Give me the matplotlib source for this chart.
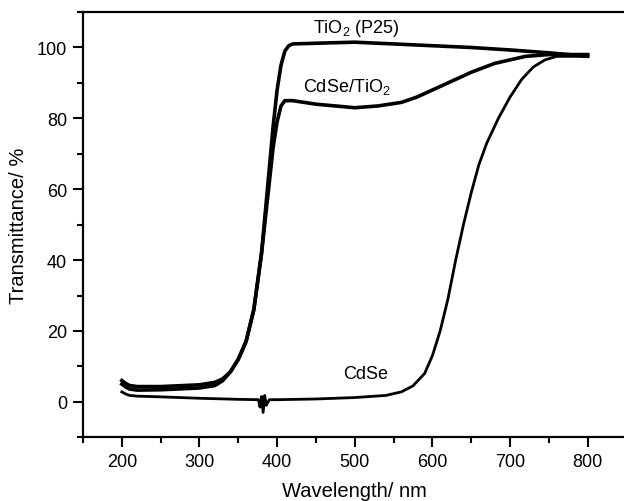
import numpy as np
import matplotlib
matplotlib.use("Agg")
import matplotlib.pyplot as plt
from matplotlib.ticker import MultipleLocator

plt.rcParams['font.family'] = ['Liberation Sans', 'DejaVu Sans']
plt.rcParams['mathtext.fontset'] = 'custom'
plt.rcParams['mathtext.rm'] = 'Liberation Sans'
plt.rcParams['mathtext.default'] = 'regular'

# values (wavelength nm, transmittance %)
tio2_x = [200, 205, 210, 220, 250, 300, 320, 330, 340, 350, 360, 370, 380, 390, 395, 400, 405, 410, 415, 420,
          450, 500, 550, 600, 650, 700, 750, 800]
tio2_y = [6.0, 5.2, 4.6, 4.3, 4.3, 4.8, 5.5, 6.5, 8.5, 12, 17, 26, 42, 66, 78, 88, 95, 99, 100.5, 101,
          101.2, 101.5, 101, 100.5, 100, 99.3, 98.5, 97.5]

cdse_tio2_x = [200, 205, 210, 220, 250, 300, 320, 330, 340, 350, 360, 370, 380, 390, 395, 400, 405, 410, 420,
               450, 500, 530, 560, 580, 600, 620, 650, 680, 700, 720, 750, 800]
cdse_tio2_y = [5.0, 4.2, 3.6, 3.3, 3.4, 3.9, 4.6, 6.0, 8.5, 12, 17, 26, 42, 62, 72, 79, 83.5, 85, 85,
               84, 83, 83.5, 84.5, 86, 88, 90, 93, 95.5, 96.5, 97.5, 98, 98]

cdse_x = [200, 205, 210, 220, 250, 300, 350, 376, 378, 380, 382, 384, 386, 390, 400, 450, 500, 540, 560,
          575, 590, 600, 610, 620, 630, 640, 650, 660, 670, 685, 700, 715, 730, 745, 760, 780, 800]
cdse_y = [2.8, 2.2, 1.8, 1.6, 1.4, 1.0, 0.7, 0.6, -1.5, 1.5, -3.0, 1.8, -1.0, 0.6, 0.6, 0.8, 1.2, 1.8, 2.8,
          4.5, 8, 13, 20, 29, 40, 50, 59, 67, 73, 80, 86, 91, 94.5, 96.5, 97.5, 97.5, 97.5]

fig = plt.figure(figsize=(6.24, 5.02), dpi=100)
ax = fig.add_axes([0.133, 0.127, 0.871, 0.847])

ax.plot(tio2_x, tio2_y, color='black', lw=2.6)
ax.plot(cdse_tio2_x, cdse_tio2_y, color='black', lw=2.6)
ax.plot(cdse_x, cdse_y, color='black', lw=2.0)

ax.text(502, 105.7, 'TiO$_2$ (P25)', fontsize=13, ha='center', va='center')
ax.text(490, 89, 'CdSe/TiO$_2$', fontsize=13, ha='center', va='center')
ax.text(514, 8, 'CdSe', fontsize=13, ha='center', va='center')

ax.set_xlim(150, 850)
ax.set_ylim(-10, 110)
ax.xaxis.set_major_locator(MultipleLocator(100))
ax.xaxis.set_minor_locator(MultipleLocator(50))
ax.yaxis.set_major_locator(MultipleLocator(20))
ax.yaxis.set_minor_locator(MultipleLocator(10))
ax.set_xticks(range(200, 801, 100))
ax.tick_params(which='major', direction='out', length=7, width=1.5, labelsize=13, pad=4.5, top=False, right=False)
ax.tick_params(which='minor', direction='out', length=4, width=1.5, top=False, right=False)
for s in ax.spines.values():
    s.set_linewidth(1.6)

ax.set_xlabel('Wavelength/ nm', fontsize=14.5, labelpad=8)
ax.set_ylabel('Transmittance/ %', fontsize=14.5, labelpad=6)

fig.savefig('out.png', dpi=100)
